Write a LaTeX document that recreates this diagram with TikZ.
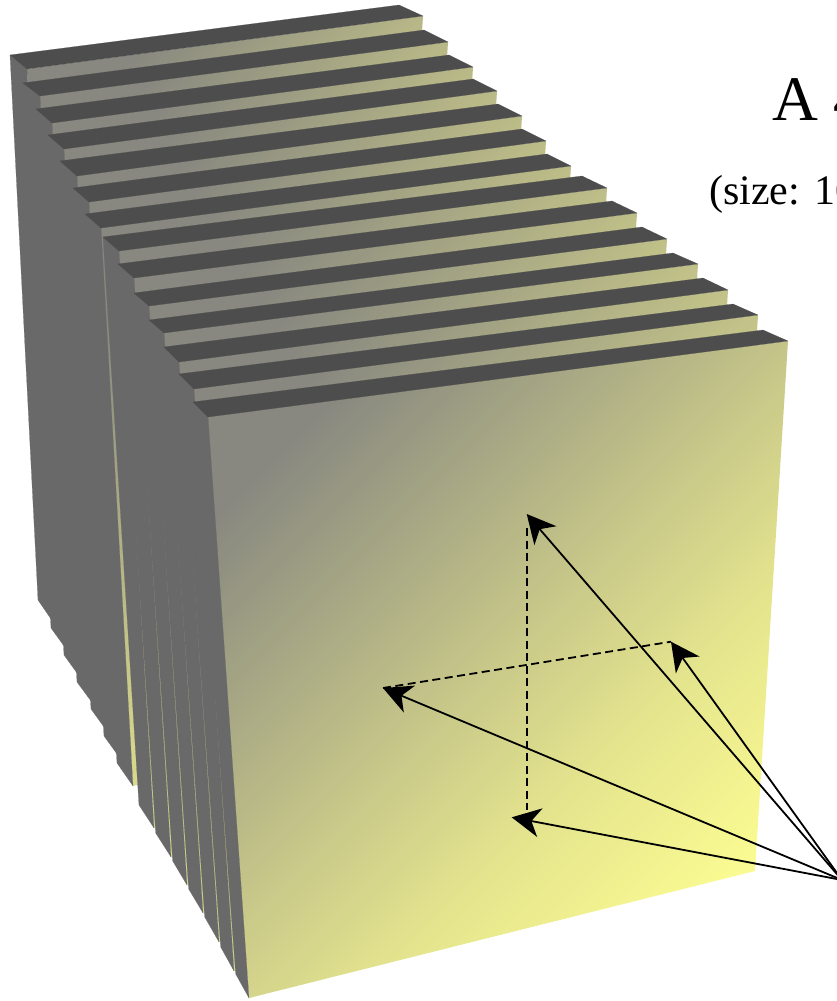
\documentclass[tikz,border=0pt]{standalone}
\usepackage{fontspec}
\setmainfont{Liberation Serif}
\usetikzlibrary{arrows.meta}
\definecolor{topgrey}{HTML}{4D4D4D}
\definecolor{sidegrey}{HTML}{696969}
\definecolor{facegrey}{HTML}{888880}
\definecolor{facemid}{HTML}{CACA8A}
\definecolor{facelight}{HTML}{E4E48E}
\definecolor{faceyellow}{HTML}{FAFA92}
\pgfdeclareverticalshading{plateshade}{100bp}{
  color(0bp)=(faceyellow); color(25bp)=(faceyellow); color(39bp)=(facelight);
  color(50bp)=(facemid); color(75bp)=(facegrey); color(100bp)=(facegrey)}
\tikzset{
  topface/.style={fill=topgrey,draw=topgrey,line width=.2pt},
  sideface/.style={fill=sidegrey,draw=sidegrey,line width=.2pt},
  frontface/.style={shading=plateshade,shading angle=45},
  leader/.style={draw=black,line width=1.8pt,-{Stealth[length=28.6pt,width=29pt,inset=8.6pt]}},
  hidden edge/.style={draw=black,line width=1.8pt,dash pattern=on 8pt off 4.5pt},
  bigtitle/.style={font=\fontsize{63.5}{63.5}\selectfont,anchor=base west,inner sep=0pt},
  subtitle/.style={font=\fontsize{42}{42}\selectfont,anchor=base west,inner sep=0pt}
}
\newcommand{\plate}[7]{%
  % #1 back-top-left, #2 back-top-right, #3 front-top-left, #4 front-top-right,
  % #5 front-bottom-left, #6 back-bottom-left, #7 front-bottom-right
  \shade[frontface] #3 -- #4 -- #7 -- #5 -- cycle;
  \path[sideface] #1 -- #3 -- #5 -- #6 -- cycle;
  \path[topface] #1 -- #2 -- #4 -- #3 -- cycle;
}
\begin{document}
\begin{tikzpicture}[x=1pt,y=-1pt]
\useasboundingbox (0,0) rectangle (837,1001);
% rear group
\plate{(10,55)}{(399,5)}{(27,69)}{(423,16)}{(51,619)}{(38,600)}{(392,514)}
\plate{(23,83)}{(424,30)}{(40,96)}{(448,42)}{(64,646)}{(51,628)}{(417,544)}
\plate{(36,109)}{(449,55)}{(52,123)}{(473,67)}{(77,673)}{(64,655)}{(442,573)}
\plate{(48,135)}{(473,79)}{(64,149)}{(497,91)}{(91,701)}{(77,682)}{(466,601)}
\plate{(60,161)}{(498,104)}{(77,176)}{(522,116)}{(104,727)}{(91,709)}{(491,620)}
\plate{(73,188)}{(522,129)}{(89,202)}{(546,141)}{(117,754)}{(104,736)}{(515,650)}
\plate{(85,214)}{(547,154)}{(101,228)}{(571,166)}{(133,786)}{(117,763)}{(539,675)}
% front group
\plate{(103,237)}{(582,176)}{(119,251)}{(607,188)}{(154,828)}{(139,805)}{(574,715)}
\plate{(118,264)}{(612,201)}{(134,278)}{(637,213)}{(171,857)}{(155.7,833)}{(604,744)}
\plate{(134,293)}{(642,227)}{(149,306)}{(667,239)}{(187,885)}{(172.7,861)}{(634,772)}
\plate{(149,320)}{(673,253)}{(164,333)}{(698,264)}{(203,913)}{(188.7,889)}{(665,797)}
\plate{(164,347)}{(703,278)}{(179,362)}{(728,290)}{(219,942)}{(204.7,917)}{(695,823)}
\plate{(179,374)}{(733,304)}{(194,389)}{(758,315)}{(234,971)}{(220.7,947)}{(725,848)}
\plate{(193,402)}{(763,330)}{(208,417)}{(788,341)}{(249,998)}{(235.7,974)}{(755,871)}
% tensor entries
\coordinate (apex) at (842,880);
\coordinate (top) at (526.7,514);
\coordinate (right) at (671,641.7);
\coordinate (left) at (383,688);
\coordinate (bottom) at (511.7,817.3);
\coordinate (vstart) at (527,528);
\coordinate (vend) at (527,810);
\path[hidden edge] (vstart) -- (vend);
\path[hidden edge] (left) -- (right);
\path[leader] (apex) -- (top);
\path[leader] (apex) -- (right);
\path[leader] (apex) -- (left);
\path[leader] (apex) -- (bottom);
% titles run past the right edge
\node[bigtitle] (title) at (772,120.5) {A 4};
\node[subtitle] (size) at (709,204) {(size: 10};
\end{tikzpicture}
\end{document}
